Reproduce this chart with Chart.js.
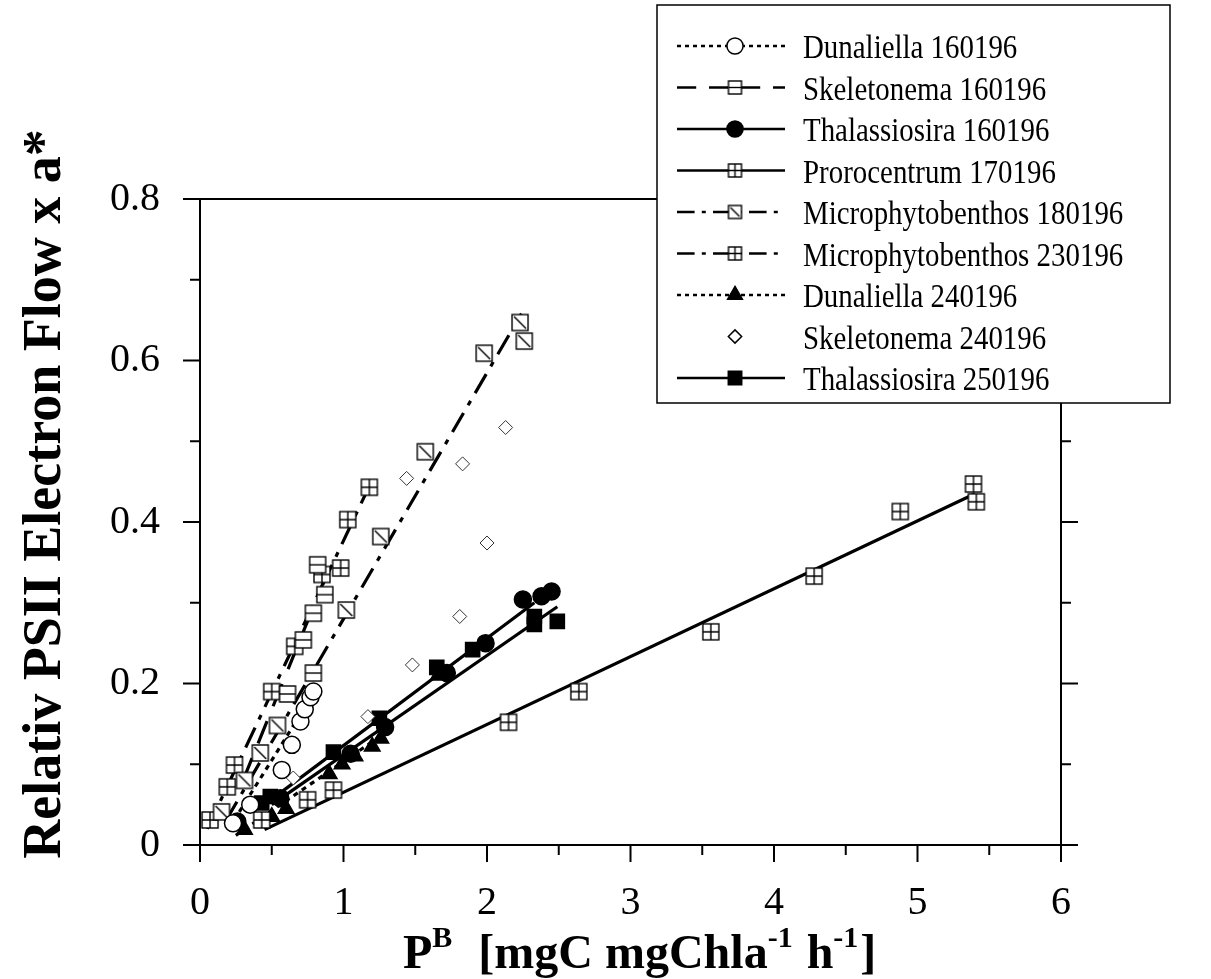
<!DOCTYPE html>
<html>
<head>
<meta charset="utf-8">
<script src="https://cdn.jsdelivr.net/npm/chart.js@4/dist/chart.umd.min.js"></script>
<style>
html, body { margin: 0; padding: 0; background: #fff; }
#wrap { width: 1211px; height: 979px; }
</style>
</head>
<body>
<div id="wrap"><canvas id="chart" width="1211" height="979"></canvas></div>
<script>
// P^B (x) against relative PSII electron flow x a* (y)
const dun160_x = [0.23, 0.35, 0.57, 0.64, 0.70, 0.73, 0.77, 0.79];
const dun160_y = [0.027, 0.050, 0.093, 0.124, 0.153, 0.168, 0.183, 0.190];
const ske160_x = [0.61, 0.72, 0.79, 0.79, 0.82, 0.87];
const ske160_y = [0.187, 0.254, 0.213, 0.287, 0.347, 0.310];
const tha160_x = [0.26, 0.56, 1.05, 1.29, 1.72, 1.99, 2.25, 2.38, 2.45];
const tha160_y = [0.029, 0.058, 0.113, 0.146, 0.213, 0.250, 0.304, 0.308, 0.314];
const pro170_x = [0.43, 0.75, 0.93, 2.15, 2.64, 3.56, 4.28, 4.88, 5.39, 5.41];
const pro170_y = [0.031, 0.056, 0.068, 0.152, 0.190, 0.264, 0.333, 0.413, 0.447, 0.425];
const mic180_x = [0.15, 0.31, 0.42, 0.54, 1.02, 1.26, 1.57, 1.98, 2.23, 2.26];
const mic180_y = [0.041, 0.080, 0.114, 0.148, 0.291, 0.382, 0.487, 0.609, 0.647, 0.624];
const mic230_x = [0.07, 0.19, 0.24, 0.50, 0.66, 0.85, 0.98, 1.03, 1.18];
const mic230_y = [0.031, 0.072, 0.099, 0.190, 0.246, 0.335, 0.343, 0.403, 0.443];
const dun240_x = [0.31, 0.50, 0.60, 0.90, 0.99, 1.08, 1.20, 1.26, 1.66];
const dun240_y = [0.019, 0.035, 0.045, 0.088, 0.100, 0.110, 0.122, 0.132, 0.210];
const ske240_x = [0.65, 1.17, 1.48, 1.81, 2.00, 1.44, 1.83, 2.13];
const ske240_y = [0.083, 0.159, 0.223, 0.283, 0.374, 0.454, 0.472, 0.517];
const tha250_x = [0.43, 0.49, 0.93, 1.25, 1.65, 1.90, 2.33, 2.33, 2.49];
const tha250_y = [0.052, 0.060, 0.115, 0.157, 0.220, 0.242, 0.273, 0.283, 0.277];

// regression lines, start and end points as drawn in the figure
const dun160_fit = [[0.20, 0.020], [0.80, 0.190]];
const ske160_fit = [[0.30, 0.080], [0.87, 0.330]];
const tha160_fit = [[0.45, 0.050], [2.33, 0.300]];
const pro170_fit = [[0.45, 0.019], [5.40, 0.435]];
const mic180_fit = [[0.18, 0.030], [2.24, 0.658]];
const mic230_fit = [[0.05, 0.020], [1.20, 0.452]];
const dun240_fit = [[0.25, 0.012], [1.30, 0.140]];
const tha250_fit = [[0.50, 0.050], [2.49, 0.295]];

const names = ['Dunaliella 160196', 'Skeletonema 160196', 'Thalassiosira 160196',
  'Prorocentrum 170196', 'Microphytobenthos 180196', 'Microphytobenthos 230196',
  'Dunaliella 240196', 'Skeletonema 240196', 'Thalassiosira 250196'];

// little boxed symbols (grid, bar, slash)
function boxSymbol(kind, side) {
  const c = document.createElement('canvas');
  c.width = c.height = side + 4;
  const g = c.getContext('2d');
  g.fillStyle = '#fff';
  g.fillRect(2, 2, side, side);
  g.strokeStyle = '#000';
  g.lineWidth = 1.4;
  g.strokeRect(2, 2, side, side);
  g.beginPath();
  const m = 2 + side / 2;
  if (kind === 'grid') {
    g.moveTo(m, 2); g.lineTo(m, 2 + side);
    g.moveTo(2, m); g.lineTo(2 + side, m);
  } else if (kind === 'bar') {
    g.moveTo(2, m); g.lineTo(2 + side, m);
  } else if (kind === 'slash') {
    g.moveTo(4, 4); g.lineTo(side, side);
  }
  g.stroke();
  return c;
}
const gridSym = boxSymbol('grid', 16);
const barSym = boxSymbol('bar', 16);
const slashSym = boxSymbol('slash', 16);
const gridSymS = boxSymbol('grid', 13);
const barSymS = boxSymbol('bar', 13);
const slashSymS = boxSymbol('slash', 13);

const dotted = [5, 5];
const longDash = [24, 16];
const dashDot = [22, 9, 5, 9];

const styles = [
  { pt: 'circle', r: 8.5, fill: '#fff', dash: dotted, leg: null },
  { pt: barSym, r: 8, fill: '#fff', dash: longDash, leg: barSymS },
  { pt: 'circle', r: 8.5, fill: '#000', dash: [], leg: null },
  { pt: gridSym, r: 8, fill: '#fff', dash: [], leg: gridSymS },
  { pt: slashSym, r: 8, fill: '#fff', dash: dashDot, leg: slashSymS },
  { pt: gridSym, r: 8, fill: '#fff', dash: dashDot, leg: gridSymS },
  { pt: 'triangle', r: 9, fill: '#000', dash: dotted, leg: null },
  { pt: 'rectRot', r: 7, fill: '#fff', dash: null, leg: null },
  { pt: 'rect', r: 10, fill: '#000', dash: [], leg: null }
];

const xs = [dun160_x, ske160_x, tha160_x, pro170_x, mic180_x, mic230_x, dun240_x, ske240_x, tha250_x];
const ys = [dun160_y, ske160_y, tha160_y, pro170_y, mic180_y, mic230_y, dun240_y, ske240_y, tha250_y];
const fits = [dun160_fit, ske160_fit, tha160_fit, pro170_fit, mic180_fit, mic230_fit, dun240_fit, null, tha250_fit];

const datasets = [];
for (let i = 0; i < names.length; i++) {
  if (fits[i]) {
    datasets.push({
      label: names[i] + ' fit',
      data: fits[i].map(p => ({ x: p[0], y: p[1] })),
      showLine: true,
      borderColor: '#000',
      borderWidth: 3.2,
      borderDash: styles[i].dash,
      pointRadius: 0,
      order: 1
    });
  }
  datasets.push({
    label: names[i],
    data: xs[i].map((v, k) => ({ x: v, y: ys[i][k] })),
    showLine: false,
    pointStyle: styles[i].pt,
    pointRadius: styles[i].r,
    pointBackgroundColor: styles[i].fill,
    pointBorderColor: i === 7 ? '#333' : '#000',
    pointBorderWidth: i === 7 ? 1 : 1.5,
    order: 0
  });
}

function isMajor(v, step) {
  const q = v / step;
  return Math.abs(q - Math.round(q)) < 1e-6;
}

// axis frame with outward ticks on left, bottom and right
const frame = {
  id: 'frame',
  afterDatasetsDraw(chart) {
    const { ctx, chartArea: a, scales: { x, y } } = chart;
    ctx.save();
    ctx.strokeStyle = '#000';
    ctx.lineWidth = 2;
    ctx.beginPath();
    ctx.moveTo(a.left, a.top); ctx.lineTo(a.right, a.top);
    ctx.moveTo(a.left, a.top); ctx.lineTo(a.left, a.bottom);
    ctx.moveTo(a.left, a.bottom); ctx.lineTo(a.right, a.bottom);
    ctx.moveTo(a.right, a.top); ctx.lineTo(a.right, a.bottom);
    x.ticks.forEach(t => {
      const px = x.getPixelForValue(t.value);
      const len = isMajor(t.value, 1) ? 17 : 10;
      ctx.moveTo(px, a.bottom); ctx.lineTo(px, a.bottom + len);
    });
    y.ticks.forEach(t => {
      const py = y.getPixelForValue(t.value);
      const len = isMajor(t.value, 0.2) ? 17 : 10;
      ctx.moveTo(a.left, py); ctx.lineTo(a.left - len, py);
      ctx.moveTo(a.right, py); ctx.lineTo(a.right + len, py);
    });
    ctx.stroke();
    ctx.restore();
  }
};

// axis titles with superscripts
const titles = {
  id: 'titles',
  afterDraw(chart) {
    const ctx = chart.ctx;
    ctx.save();
    ctx.fillStyle = '#000';
    ctx.textBaseline = 'alphabetic';
    // y title
    ctx.save();
    ctx.translate(60, 494);
    ctx.rotate(-Math.PI / 2);
    ctx.font = 'bold 54px "Liberation Serif"';
    ctx.textAlign = 'center';
    ctx.fillText('Relativ PSII Electron Flow x a*', 0, 0);
    ctx.restore();
    // x title
    const parts = [
      ['P', 0], ['B', 1], ['  [mgC mgChla', 0], ['-1', 1], [' h', 0], ['-1', 1], [']', 0]
    ];
    ctx.save();
    ctx.translate(403, 968);
    let cx = 0;
    parts.forEach(([s, sup]) => {
      ctx.font = sup ? 'bold 30px "Liberation Serif"' : 'bold 48px "Liberation Serif"';
      ctx.fillText(s, cx, sup ? -21 : 0);
      cx += ctx.measureText(s).width + (sup ? 2 : 0);
    });
    ctx.restore();
    ctx.restore();
  }
};

// boxed legend drawn over the upper right of the plot
const boxLegend = {
  id: 'boxLegend',
  afterDraw(chart) {
    const ctx = chart.ctx;
    const bx = 657, by = 5, bw = 513, bh = 398;
    ctx.save();
    ctx.fillStyle = '#fff';
    ctx.fillRect(bx, by, bw, bh);
    ctx.strokeStyle = '#000';
    ctx.lineWidth = 1.5;
    ctx.strokeRect(bx, by, bw, bh);
    for (let i = 0; i < names.length; i++) {
      const ry = 46 + i * 41.5;
      const st = styles[i];
      if (st.dash) {
        ctx.beginPath();
        ctx.setLineDash(st.dash.map(d => d * 0.8));
        ctx.lineWidth = 2.5;
        ctx.moveTo(677, ry); ctx.lineTo(785, ry);
        ctx.stroke();
        ctx.setLineDash([]);
      }
      const mx = 735;
      ctx.lineWidth = 1.5;
      ctx.fillStyle = st.fill;
      ctx.strokeStyle = '#000';
      if (st.leg) {
        ctx.drawImage(st.leg, mx - st.leg.width / 2, ry - st.leg.height / 2);
      } else {
        Chart.helpers.drawPoint(ctx, { pointStyle: st.pt, radius: st.r * 0.95, rotation: 0, borderWidth: 1.5 }, mx, ry);
      }
      ctx.save();
      ctx.translate(803, ry + 12);
      ctx.scale(0.85, 1);
      ctx.fillStyle = '#000';
      ctx.font = '34px "Liberation Serif"';
      ctx.textBaseline = 'alphabetic';
      ctx.fillText(names[i], 0, 0);
      ctx.restore();
    }
    ctx.restore();
  }
};

new Chart(document.getElementById('chart'), {
  type: 'scatter',
  data: { datasets: datasets },
  options: {
    responsive: false,
    animation: false,
    layout: { padding: { top: 199, right: 150, left: 0, bottom: 0 } },
    plugins: {
      legend: { display: false },
      tooltip: { enabled: false }
    },
    scales: {
      x: {
        type: 'linear',
        min: 0,
        max: 6,
        grid: { display: false },
        border: { display: false },
        afterFit: s => { s.height = 134; },
        ticks: {
          stepSize: 0.5,
          autoSkip: false,
          maxRotation: 0,
          padding: 26,
          color: '#000',
          font: { family: 'Liberation Serif', size: 40 },
          callback: v => isMajor(v, 1) ? String(Math.round(v)) : ''
        }
      },
      y: {
        type: 'linear',
        min: 0,
        max: 0.8,
        grid: { display: false },
        border: { display: false },
        afterFit: s => { s.width = 200; },
        ticks: {
          stepSize: 0.1,
          autoSkip: false,
          padding: 32,
          color: '#000',
          font: { family: 'Liberation Serif', size: 40 },
          callback: v => isMajor(v, 0.2) ? (Math.abs(v) < 1e-9 ? '0' : v.toFixed(1)) : ''
        }
      }
    }
  },
  plugins: [frame, titles, boxLegend]
});
</script>
</body>
</html>
